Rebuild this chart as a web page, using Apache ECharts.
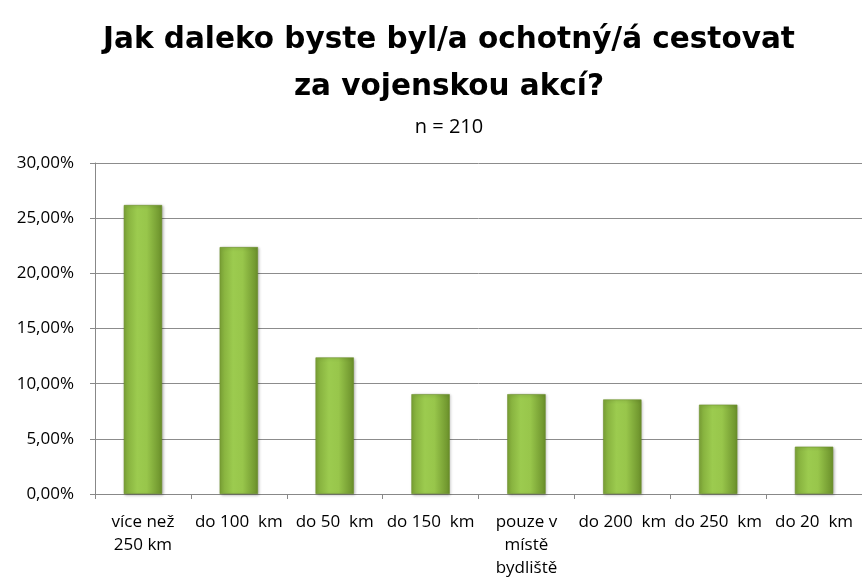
<!DOCTYPE html>
<html>
<head>
<meta charset="utf-8">
<script src="https://cdn.jsdelivr.net/npm/echarts@6/dist/echarts.min.js"></script>
<style>html,body{margin:0;padding:0;background:#fff}#c{width:862px;height:586px}</style>
</head>
<body>
<div id="c"></div>
<script>
const categories = ['více než\n250 km', 'do 100  km', 'do 50  km', 'do 150  km', 'pouze v\nmístě\nbydliště', 'do 200  km', 'do 250  km', 'do 20  km'];
const values = [26.19, 22.38, 12.38, 9.05, 9.05, 8.57, 8.10, 4.29];
const yTicks = [0, 5, 10, 15, 20, 25, 30];

const chart = echarts.init(document.getElementById('c'));
const barColor = new echarts.graphic.LinearGradient(0, 0, 1, 0, [
  {offset: 0, color: '#7fa838'},
  {offset: 0.35, color: '#9ccb4f'},
  {offset: 0.6, color: '#98c64b'},
  {offset: 1, color: '#6a8f2a'}
]);
chart.setOption({
  animation: false,
  title: [{
    text: 'Jak daleko byste byl/a ochotný/á cestovat\nza vojenskou akcí?',
    left: 444, top: 12, textAlign: 'center',
    textStyle: {fontFamily: 'DejaVu Sans', fontWeight: 'bold', fontSize: 29.5, lineHeight: 47, color: '#000'}
  }, {
    text: 'n = 210',
    left: 444, top: 112, textAlign: 'center',
    textStyle: {fontFamily: 'Open Sans', fontWeight: 'normal', fontSize: 20, color: '#000'}
  }],
  grid: {left: 95, right: -6, top: 163, bottom: 92},
  xAxis: {
    type: 'category',
    data: categories,
    axisLine: {lineStyle: {color: '#888', width: 1}},
    axisTick: {show: true, length: 5, lineStyle: {color: '#888'}},
    axisLabel: {interval: 0, fontFamily: 'Open Sans', fontSize: 17, lineHeight: 23, color: '#000', margin: 17}
  },
  yAxis: {
    type: 'value', min: 0, max: 30, interval: 5,
    axisLine: {show: true, lineStyle: {color: '#888', width: 1}},
    axisTick: {show: true, length: 5, lineStyle: {color: '#888'}},
    splitLine: {lineStyle: {color: '#8c8c8c', width: 1}},
    axisLabel: {
      fontFamily: 'Open Sans', fontSize: 17, color: '#000', margin: 21,
      formatter: v => yTicks.includes(v) ? v.toFixed(2).replace('.', ',') + '%' : ''
    }
  },
  series: [{
    type: 'bar',
    data: values,
    barWidth: '40%',
    itemStyle: {
      color: barColor,
      borderColor: '#6b8f2b', borderWidth: 0.6,
      shadowColor: 'rgba(0,0,0,0.3)', shadowBlur: 3, shadowOffsetX: 1, shadowOffsetY: 1
    }
  }]
});
</script>
</body>
</html>
